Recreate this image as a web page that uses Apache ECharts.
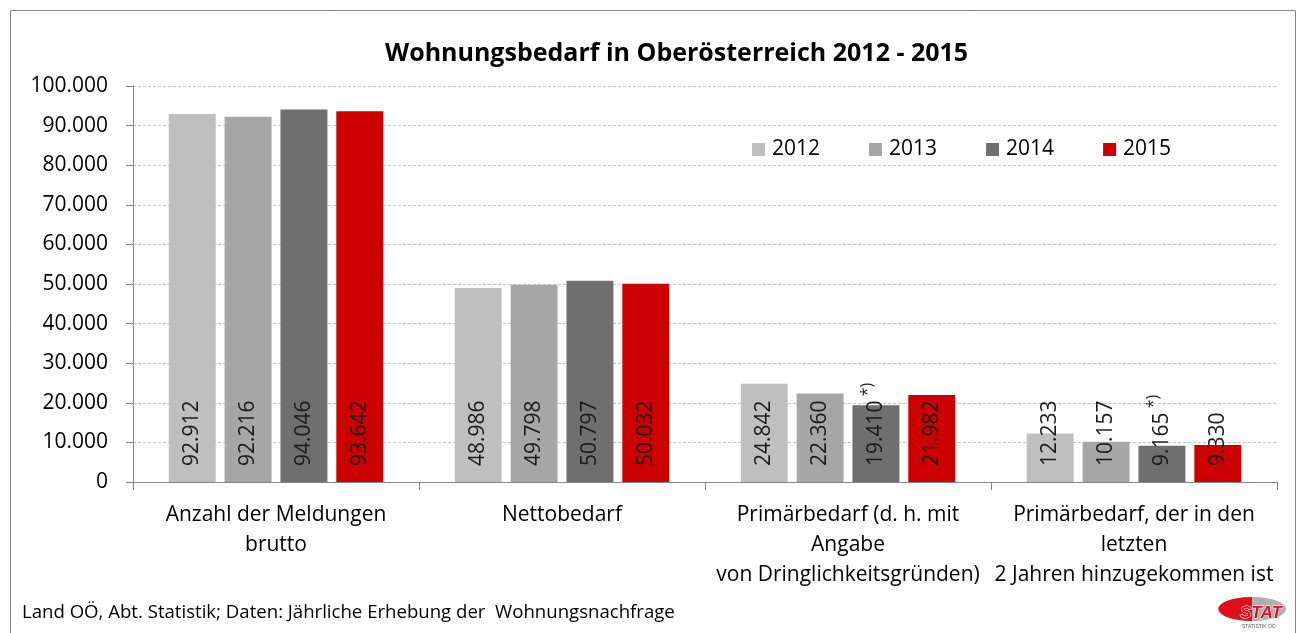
<!DOCTYPE html>
<html>
<head>
<meta charset="utf-8">
<script src="https://cdn.jsdelivr.net/npm/echarts@6/dist/echarts.min.js"></script>
<style>
html,body{margin:0;padding:0;background:#fff;}
#c{width:1297px;height:633px;}
</style>
</head>
<body>
<div id="c"></div>
<script>
var categories = [
  'Anzahl der Meldungen\nbrutto',
  'Nettobedarf',
  'Primärbedarf (d. h. mit\nAngabe\nvon Dringlichkeitsgründen)',
  'Primärbedarf, der in den\nletzten\n2 Jahren hinzugekommen ist'
];
var years = ['2012', '2013', '2014', '2015'];
var v2012 = [92912, 48986, 24842, 12233];
var v2013 = [92216, 49798, 22360, 10157];
var v2014 = [94046, 50797, 19410, 9165];
var v2015 = [93642, 50032, 21982, 9330];
var colors = ['#bfbfbf', '#a6a6a6', '#6f6f6f', '#cc0000'];

var FONT = '"Open Sans", "Liberation Sans", sans-serif';
function fmt(v) {
  return String(v).replace(/\B(?=(\d{3})+(?!\d))/g, '.');
}
var allSeries = [v2012, v2013, v2014, v2015];
var marks = { 2: [2, 3] }; // 2014 values marked with *)

var chart = echarts.init(document.getElementById('c'));
var series = allSeries.map(function (vals, si) {
  return {
    name: years[si],
    type: 'bar',
    data: vals,
    barCategoryGap: '25%',
    barGap: '19%',
    itemStyle: { color: colors[si] },
    label: {
      show: true,
      position: 'insideBottom',
      distance: 16,
      rotate: 90,
      align: 'left',
      verticalAlign: 'middle',
      fontFamily: FONT,
      fontSize: 21,
      color: '#1a1a1a',
      formatter: function (p) {
        var s = fmt(p.value);
        if (marks[si] && marks[si].indexOf(p.dataIndex) >= 0) {
          return s + '{sup| *)}';
        }
        return s;
      },
      rich: {
        sup: { fontFamily: FONT, fontSize: 16, color: '#1a1a1a', padding: [0, 0, 16, 0] }
      }
    }
  };
});

chart.setOption({
  animation: false,
  backgroundColor: '#fff',
  color: colors,
  title: {
    text: 'Wohnungsbedarf in Oberösterreich 2012 - 2015',
    left: 380,
    top: 36,
    textStyle: { fontFamily: FONT, fontWeight: 'bold', fontSize: 25, color: '#000' }
  },
  legend: {
    data: years,
    left: 747,
    top: 134,
    itemWidth: 13,
    itemHeight: 13,
    itemGap: 49,
    icon: 'rect',
    textStyle: { fontFamily: FONT, fontSize: 21, color: '#000', padding: [0, 0, 0, 2] }
  },
  grid: { left: 133, right: 20, top: 86, bottom: 151, containLabel: false },
  xAxis: {
    type: 'category',
    data: categories,
    axisLine: { lineStyle: { color: '#868686' } },
    axisTick: { show: true, length: 8, lineStyle: { color: '#868686' } },
    axisLabel: {
      fontFamily: FONT, fontSize: 21, color: '#000', margin: 18,
      lineHeight: 30, interval: 0
    }
  },
  yAxis: {
    type: 'value',
    min: 0,
    max: 100000,
    interval: 10000,
    axisLine: { show: true, lineStyle: { color: '#868686' } },
    axisTick: { show: true, length: 7, lineStyle: { color: '#868686' } },
    splitLine: { lineStyle: { color: '#c4c4c4', type: [3, 2] } },
    axisLabel: {
      fontFamily: FONT, fontSize: 21, color: '#000', margin: 25,
      formatter: function (v) { return fmt(v); }
    }
  },
  series: series,
  graphic: [
    {
      type: 'rect', silent: true, z: -1,
      shape: { x: 10.5, y: 10.5, width: 1285, height: 640 },
      style: { fill: 'none', stroke: '#868686', lineWidth: 1 }
    },
    {
      type: 'text', left: 22, top: 603,
      style: { text: 'Land OÖ, Abt. Statistik; Daten: Jährliche Erhebung der  Wohnungsnachfrage',
               fontFamily: FONT, fontSize: 18.6, fill: '#000' }
    },
    {
      type: 'group', left: 1218, top: 597,
      children: [
        { type: 'ellipse', shape: { cx: 34, cy: 12, rx: 34, ry: 12 }, style: { fill: '#b0b0b0' } },
        { type: 'sector', shape: { cx: 34, cy: 12, r: 12, r0: 0, startAngle: Math.PI * 0.5, endAngle: Math.PI * 1.5 },
          scaleX: 2.8, originX: 34, originY: 12, style: { fill: '#e0101a' } },
        { type: 'text', style: { x: 22, y: 8, text: 'STAT', fontFamily: '"Liberation Sans", sans-serif', fontWeight: 'bold',
          fontStyle: 'italic', fontSize: 17, fill: '#e0101a', stroke: '#fff', lineWidth: 1 } },
        { type: 'text', style: { x: 24, y: 27, text: 'STATISTIK OÖ', fontFamily: '"Liberation Sans", sans-serif',
          fontSize: 5, fill: '#555' } }
      ]
    }
  ]
});
</script>
</body>
</html>
